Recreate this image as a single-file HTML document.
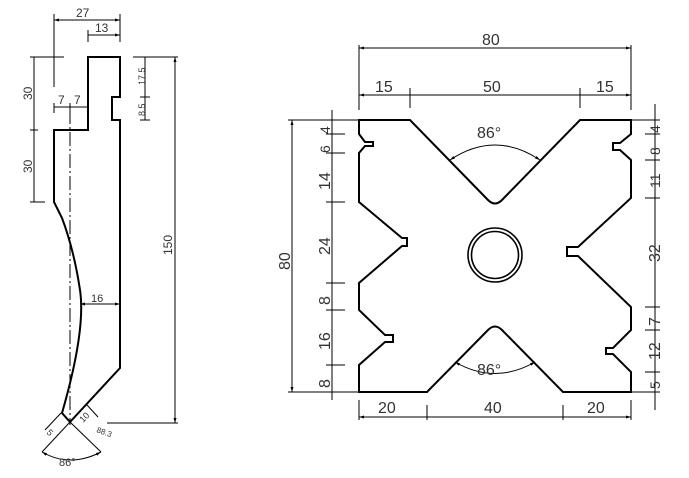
<!DOCTYPE html>
<html><head><meta charset="utf-8"><style>
html,body{margin:0;padding:0;background:#fff;}
svg{display:block;}
text{font-family:"Liberation Sans",sans-serif;fill:#333;}
</style></head><body>
<svg width="689" height="478" viewBox="0 0 689 478" xmlns="http://www.w3.org/2000/svg">
<defs>
<marker id="a" viewBox="0 0 10 10" refX="10" refY="5" markerWidth="7" markerHeight="5" orient="auto-start-reverse"><path d="M0,2 L10,5 L0,8 z" fill="#000"/></marker>
</defs>
<!-- LEFT PART -->
<g fill="none" stroke="#000" stroke-width="2">
<path d="M88,57 L120,57 L120,97 L112,97 L112,120 L120,120 L120,368 L70,422 L62,413 Q86,330 80,290 Q74,250 62,218 L54,202 L54,130 L88,130 Z"/>
</g>
<g stroke="#000" stroke-width="1" fill="none">
<line x1="70" y1="110" x2="70" y2="425" stroke-dasharray="14,3,2,3"/>
<!-- 27/13 -->
<line x1="54" y1="14" x2="54" y2="87"/>
<line x1="120" y1="14" x2="120" y2="42"/>
<line x1="88" y1="30" x2="88" y2="42"/>
<line x1="54" y1="20" x2="120" y2="20" marker-start="url(#a)" marker-end="url(#a)"/>
<line x1="88" y1="35" x2="120" y2="35" marker-end="url(#a)"/>
<!-- 30/30 -->
<line x1="30" y1="57" x2="64" y2="57"/>
<line x1="30" y1="202" x2="45" y2="202"/>
<line x1="30" y1="130" x2="38" y2="130"/>
<line x1="34" y1="57" x2="34" y2="202"/>
<!-- 7 7 -->
<line x1="54" y1="107" x2="88" y2="107"/>
<line x1="54" y1="103" x2="54" y2="113"/><line x1="70" y1="103" x2="70" y2="113"/>
<!-- 150 -->
<line x1="133" y1="57" x2="178" y2="57"/>
<line x1="107" y1="423" x2="178" y2="423"/>
<line x1="175" y1="57" x2="175" y2="423" marker-start="url(#a)" marker-end="url(#a)"/>
<!-- 17.5 8.5 -->
<line x1="145" y1="57" x2="145" y2="120"/>
<line x1="140" y1="97" x2="150" y2="97"/>
<line x1="140" y1="120" x2="150" y2="120"/>
<!-- 16 -->
<line x1="80" y1="304" x2="120" y2="304" marker-start="url(#a)" marker-end="url(#a)"/>
<!-- bottom -->
<line x1="70" y1="422" x2="42" y2="452"/>
<line x1="70" y1="422" x2="101" y2="452"/>
<path d="M42,452 Q70,468 101,452" marker-start="url(#a)" marker-end="url(#a)"/>
<line x1="61" y1="413" x2="45" y2="430"/>
<line x1="87" y1="405" x2="98" y2="417"/>
</g>
<g font-size="12">
<text x="76" y="17">27</text>
<text x="95" y="32">13</text>
<text x="58" y="104">7</text><text x="74" y="104">7</text>
<text transform="translate(32,100) rotate(-90)">30</text>
<text transform="translate(32,173) rotate(-90)">30</text>
<text transform="translate(172,255) rotate(-90)">150</text>
<text transform="translate(145,85) rotate(-90)" font-size="9">17.5</text>
<text transform="translate(145,116) rotate(-90)" font-size="9">8.5</text>
<text x="91" y="302" font-size="11">16</text>
<text x="59" y="466" font-size="11">86°</text>
<text transform="translate(46,433) rotate(45)" font-size="9">5</text>
<text transform="translate(83,423) rotate(-45)" font-size="9">10</text>
<text transform="translate(96,432) rotate(20)" font-size="8">88.3</text>
</g>

<!-- RIGHT PART -->
<g fill="none" stroke="#000" stroke-width="2">
<path d="M359,120 L410,120 L488,200 Q495,207 502,200 L580,120 L631,120 L631,134 L620,143 L613,143 L613,150 L620,150 L631,160 L631,198 L578,247 L567,247 L567,256 L578,256 L631,307 L631,330 L613,348 L606,348 L606,354 L613,354 L631,372 L631,392 L563,392 L502,330 Q495,323 488,330 L427,392 L359,392 L359,365 L385,342 L393,342 L393,335 L385,335 L359,310 L359,283 L402,246 L407,246 L407,238 L402,238 L359,202 L359,153 L365,146 L373,146 L373,142 L365,142 L359,134 Z"/>
<circle cx="495" cy="255" r="27" stroke-width="1.6"/>
<circle cx="495" cy="255" r="23.5" stroke-width="1.6"/>
</g>
<g stroke="#000" stroke-width="1" fill="none">
<!-- top dims -->
<line x1="359" y1="45" x2="359" y2="110"/>
<line x1="631" y1="45" x2="631" y2="110"/>
<line x1="410" y1="88" x2="410" y2="108"/>
<line x1="580" y1="88" x2="580" y2="108"/>
<line x1="359" y1="48" x2="631" y2="48" marker-start="url(#a)" marker-end="url(#a)"/>
<line x1="359" y1="95" x2="631" y2="95" marker-start="url(#a)" marker-end="url(#a)"/>
<!-- left dims -->
<line x1="288" y1="120" x2="359" y2="120"/>
<line x1="288" y1="392" x2="359" y2="392"/>
<line x1="292" y1="120" x2="292" y2="392" marker-start="url(#a)" marker-end="url(#a)"/>
<line x1="332" y1="110" x2="332" y2="400"/>
<line x1="326" y1="134" x2="345" y2="134"/>
<line x1="326" y1="153" x2="345" y2="153"/>
<line x1="326" y1="202" x2="345" y2="202"/>
<line x1="326" y1="283" x2="345" y2="283"/>
<line x1="326" y1="310" x2="345" y2="310"/>
<line x1="326" y1="365" x2="345" y2="365"/>
<!-- right dims -->
<line x1="655" y1="104" x2="655" y2="410"/>
<line x1="631" y1="120" x2="660" y2="120"/>
<line x1="645" y1="134" x2="660" y2="134"/>
<line x1="645" y1="160" x2="660" y2="160"/>
<line x1="645" y1="198" x2="660" y2="198"/>
<line x1="645" y1="307" x2="660" y2="307"/>
<line x1="645" y1="330" x2="660" y2="330"/>
<line x1="645" y1="372" x2="660" y2="372"/>
<line x1="631" y1="392" x2="660" y2="392"/>
<!-- bottom dims -->
<line x1="359" y1="400" x2="359" y2="420"/>
<line x1="631" y1="400" x2="631" y2="420"/>
<line x1="427" y1="405" x2="427" y2="420"/>
<line x1="563" y1="405" x2="563" y2="420"/>
<line x1="359" y1="417" x2="631" y2="417" marker-start="url(#a)" marker-end="url(#a)"/>
<!-- angle arcs -->
<path d="M450,160 Q495,130 540,160" marker-start="url(#a)" marker-end="url(#a)"/>
<path d="M455,362 Q495,385 535,362" marker-start="url(#a)" marker-end="url(#a)"/>
</g>
<g font-size="16">
<text x="482" y="45">80</text>
<text x="375" y="92">15</text>
<text x="483" y="92">50</text>
<text x="596" y="92">15</text>
<text x="378" y="413">20</text>
<text x="484" y="413">40</text>
<text x="587" y="413">20</text>
<text x="477" y="138">86°</text>
<text x="477" y="375">86°</text>
<text transform="translate(290,270) rotate(-90)">80</text>
<text transform="translate(330,134) rotate(-90)" font-size="14">4</text>
<text transform="translate(330,153) rotate(-90)" font-size="14">6</text>
<text transform="translate(330,190) rotate(-90)">14</text>
<text transform="translate(330,255) rotate(-90)">24</text>
<text transform="translate(330,305) rotate(-90)">8</text>
<text transform="translate(330,350) rotate(-90)">16</text>
<text transform="translate(330,388) rotate(-90)">8</text>
<text transform="translate(660,133) rotate(-90)" font-size="14">4</text>
<text transform="translate(660,155) rotate(-90)" font-size="14">8</text>
<text transform="translate(660,188) rotate(-90)" font-size="14">11</text>
<text transform="translate(660,262) rotate(-90)">32</text>
<text transform="translate(660,326) rotate(-90)">7</text>
<text transform="translate(660,360) rotate(-90)">12</text>
<text transform="translate(660,389) rotate(-90)" font-size="14">5</text>
</g>
</svg>
</body></html>
